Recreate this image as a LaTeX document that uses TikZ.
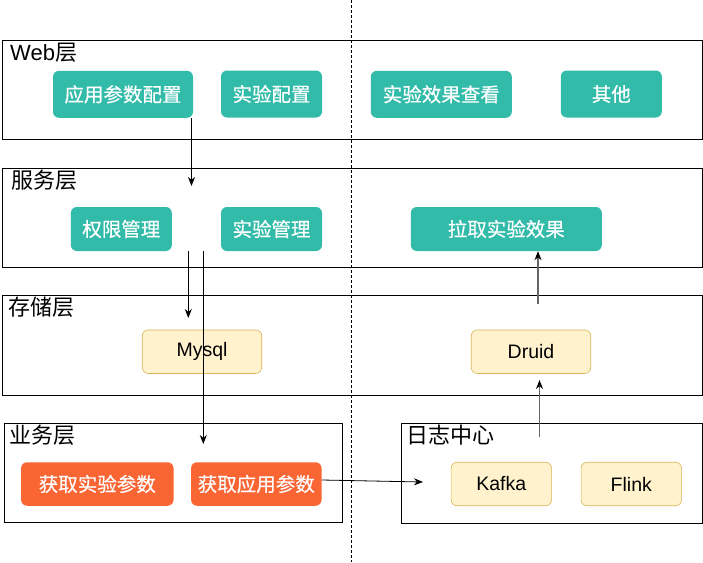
\documentclass[tikz,border=0pt]{standalone}
\usepackage{fontspec}
\setmainfont{Liberation Sans}
\newfontfamily\cjk{Noto Sans CJK SC}
\newfontfamily\cjkb[FakeBold=0.5]{Noto Sans CJK SC}
\usetikzlibrary{arrows.meta}
\definecolor{teal1}{HTML}{33BBAA}
\definecolor{orange1}{HTML}{FA6534}
\definecolor{yfill}{HTML}{FFF2CC}
\definecolor{ydraw}{HTML}{D6B656}
\definecolor{grayline}{HTML}{666666}
\begin{document}
\begin{tikzpicture}[x=1pt,y=-1pt,
  layer/.style={draw=black,line width=1.1pt},
  lbl/.style={anchor=north west,inner sep=0pt,font=\fontsize{22}{24}\selectfont},
  tealbox/.style={fill=teal1,rounded corners=6pt,text=white,inner sep=0pt,font=\cjkb\fontsize{19.5}{22}\selectfont},
  orbox/.style={fill=orange1,rounded corners=6pt,text=white,inner sep=0pt,font=\cjkb\fontsize{19.5}{22}\selectfont},
  ybox/.style={fill=yfill,draw=ydraw,line width=0.6pt,rounded corners=6pt,text=black,inner sep=0pt,font=\fontsize{19.5}{22}\selectfont},
  arr/.style={line width=0.8pt,-{Stealth[length=9pt,width=7pt]}},
  garr/.style={draw=grayline,line width=1.1pt,-{Stealth[length=9pt,width=7pt,color=black]}}
]
\useasboundingbox (0,0) rectangle (703,562);
% dashed divider
\coordinate (dtop) at (351.5,0);
\coordinate (dbot) at (351.5,562);
\draw[line width=0.8pt,dash pattern=on 3pt off 2pt] (dtop) -- (dbot);

% layers
\node[layer,minimum width=699.5pt,minimum height=99pt,anchor=north west,inner sep=0pt] (web) at (2,40) {};
\node[layer,minimum width=699.5pt,minimum height=99pt,anchor=north west,inner sep=0pt] (svc) at (2,167.5) {};
\node[layer,minimum width=699.5pt,minimum height=100pt,anchor=north west,inner sep=0pt] (sto) at (2,294.5) {};
\node[layer,minimum width=338pt,minimum height=99.5pt,anchor=north west,inner sep=0pt] (biz) at (3.5,422.5) {};
\node[layer,minimum width=300.5pt,minimum height=100pt,anchor=north west,inner sep=0pt] (log) at (401,422.5) {};

\node[lbl] (webl) at (10,43) {Web{\cjk 层}};
\node[lbl] (svcl) at (11,170) {\cjk 服务层};
\node[lbl] (stol) at (8,297) {\cjk 存储层};
\node[lbl] (bizl) at (9,425) {\cjk 业务层};
\node[lbl] (logl) at (406,425) {\cjk 日志中心};

% web boxes
\node[tealbox,minimum width=140pt,minimum height=47pt] (appcfg) at (123,94.3) {应用参数配置};
\node[tealbox,minimum width=101pt,minimum height=47pt] (expcfg) at (271.5,94) {实验配置};
\node[tealbox,minimum width=141pt,minimum height=47pt] (expview) at (441.3,94.3) {实验效果查看};
\node[tealbox,minimum width=101pt,minimum height=47pt] (other) at (611.3,94) {其他};

% service boxes
\node[tealbox,minimum width=101pt,minimum height=44pt] (auth) at (121.3,229) {权限管理};
\node[tealbox,minimum width=101pt,minimum height=44pt] (expmgr) at (271.5,229) {实验管理};
\node[tealbox,minimum width=191pt,minimum height=44pt] (pull) at (506.3,229) {拉取实验效果};

% storage
\node[ybox,minimum width=119.5pt,minimum height=43.5pt] (mysql) at (202,351.7) {Mysql};
\node[ybox,minimum width=119.5pt,minimum height=43.5pt] (druid) at (531,351.7) {Druid};

% business
\node[orbox,minimum width=152.5pt,minimum height=43.5pt] (getexp) at (97.3,484) {获取实验参数};
\node[orbox,minimum width=130.5pt,minimum height=43.5pt] (getapp) at (256.3,484) {获取应用参数};

% log center
\node[ybox,minimum width=100.5pt,minimum height=43.5pt] (kafka) at (501.3,484) {Kafka};
\node[ybox,minimum width=100.5pt,minimum height=43.5pt] (flink) at (631.3,484) {Flink};

% connectors
\coordinate (a1e) at (191.5,186);
\draw[arr] (appcfg.south -| a1e) -- (a1e);
\coordinate (a2s) at (188.3,251);
\coordinate (a2e) at (188.3,318);
\draw[arr] (a2s) -- (a2e);
\coordinate (a3s) at (203.3,251);
\coordinate (a3e) at (203.3,444);
\draw[arr] (a3s) -- (a3e);
\coordinate (a4e) at (423,482);
\draw[arr] (getapp.east |- 0,480) -- (a4e);
\coordinate (a5s) at (538,304);
\draw[garr] (a5s) -- (pull.south -| a5s);
\coordinate (a6s) at (539.5,437);
\coordinate (a6e) at (539.5,380);
\draw[garr] (a6s) -- (a6e);
\end{tikzpicture}
\end{document}
